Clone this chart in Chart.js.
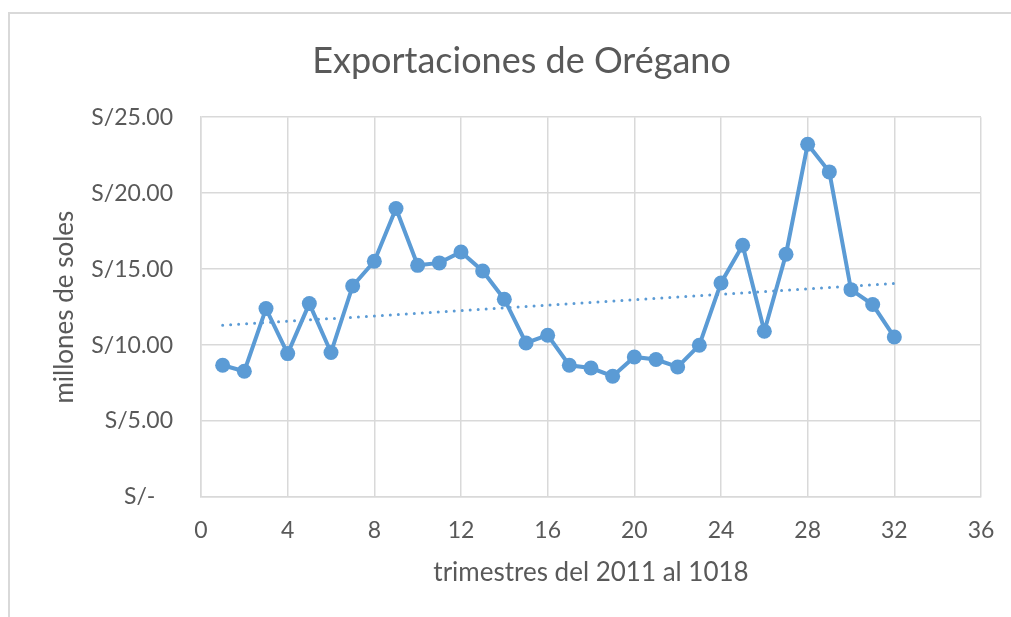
<!DOCTYPE html>
<html>
<head>
<meta charset="utf-8">
<script src="https://cdn.jsdelivr.net/npm/chart.js@4"></script>
<style>
  body { margin: 0; background: #fff; overflow: hidden; }
  #wrap {
    position: absolute; left: 8px; top: 12px; width: 1100px; height: 700px;
    border-left: 2px solid #d9d9d9; border-top: 2px solid #d9d9d9;
  }
  #chart { position: absolute; left: 0; top: 0; }
</style>
</head>
<body>
<div id="wrap"><canvas id="chart" width="1023" height="603"></canvas></div>
<script>
// trimestres 1..32
const quarters = [1, 2, 3, 4, 5, 6, 7, 8, 9, 10, 11, 12, 13, 14, 15, 16,
                  17, 18, 19, 20, 21, 22, 23, 24, 25, 26, 27, 28, 29, 30, 31, 32];
// millones de soles
const exports = [8.67, 8.28, 12.40, 9.44, 12.73, 9.51, 13.89, 15.52, 18.99, 15.25, 15.41, 16.13, 14.88, 13.02, 10.14, 10.65,
                 8.67, 8.49, 7.95, 9.22, 9.05, 8.56, 9.99, 14.09, 16.57, 10.91, 15.98, 23.22, 21.40, 13.65, 12.67, 10.53];
// trendline ends
const trendX = [1, 32];
const trendY = [11.30, 14.05];
const yTickLabels = ['S/-   ', 'S/5.00', 'S/10.00', 'S/15.00', 'S/20.00', 'S/25.00'];

const textColor = '#595959';
const gridColor = '#d9d9d9';
const blue = '#5B9BD5';
const fam = 'Lato, "Open Sans", sans-serif';

const ctx = document.getElementById('chart').getContext('2d');

new Chart(ctx, {
    type: 'line',
    data: {
        datasets: [{
            label: 'tendencia',
            data: trendX.map((x, i) => ({ x: x, y: trendY[i] })),
            borderColor: blue,
            borderWidth: 3,
            borderDash: [0, 8],
            borderCapStyle: 'round',
            pointRadius: 0,
            fill: false,
            order: 0
        }, {
            label: 'Exportaciones',
            data: quarters.map((q, i) => ({ x: q, y: exports[i] })),
            borderColor: blue,
            backgroundColor: blue,
            borderWidth: 4,
            pointRadius: 7.5,
            pointBackgroundColor: blue,
            pointBorderColor: blue,
            pointBorderWidth: 0,
            tension: 0,
            fill: false,
            order: 1
        }]
    },
    options: {
        responsive: false,
        animation: false,
        events: [],
        layout: { padding: 0 },
        plugins: {
            legend: { display: false },
            tooltip: { enabled: false },
            title: {
                display: true,
                text: 'Exportaciones de Orégano',
                color: textColor,
                font: { family: fam, size: 36, weight: 'normal' },
                padding: { top: 26, bottom: 34 }
            }
        },
        scales: {
            x: {
                type: 'linear',
                min: 0,
                max: 36,
                afterFit: s => { s.height = 120; },
                ticks: {
                    stepSize: 4,
                    color: textColor,
                    padding: 20,
                    font: { family: fam, size: 23 }
                },
                grid: { color: gridColor, lineWidth: 1.5, drawTicks: false },
                border: { color: gridColor, width: 1.5 },
                title: {
                    display: true,
                    text: 'trimestres del 2011 al 1018',
                    color: textColor,
                    font: { family: fam, size: 26 },
                    padding: { top: 0, bottom: 29 }
                }
            },
            y: {
                min: 0,
                max: 25,
                afterFit: s => { s.width = 191; },
                ticks: {
                    stepSize: 5,
                    color: textColor,
                    padding: 28,
                    font: { family: fam, size: 23 },
                    callback: (v, i) => yTickLabels[i]
                },
                grid: { color: gridColor, lineWidth: 1.5, drawTicks: false },
                border: { color: gridColor, width: 1.5 },
                title: {
                    display: true,
                    text: 'millones de soles',
                    color: textColor,
                    font: { family: fam, size: 26 },
                    padding: { top: 39, bottom: 0 }
                }
            },
            // empty right-hand spacer so the plot stops where the reference's does
            spacer: {
                position: 'right',
                min: 0,
                max: 25,
                afterFit: s => { s.width = 52; },
                ticks: { display: false },
                grid: { display: false, drawTicks: false },
                border: { display: false }
            }
        }
    }
});
</script>
</body>
</html>
